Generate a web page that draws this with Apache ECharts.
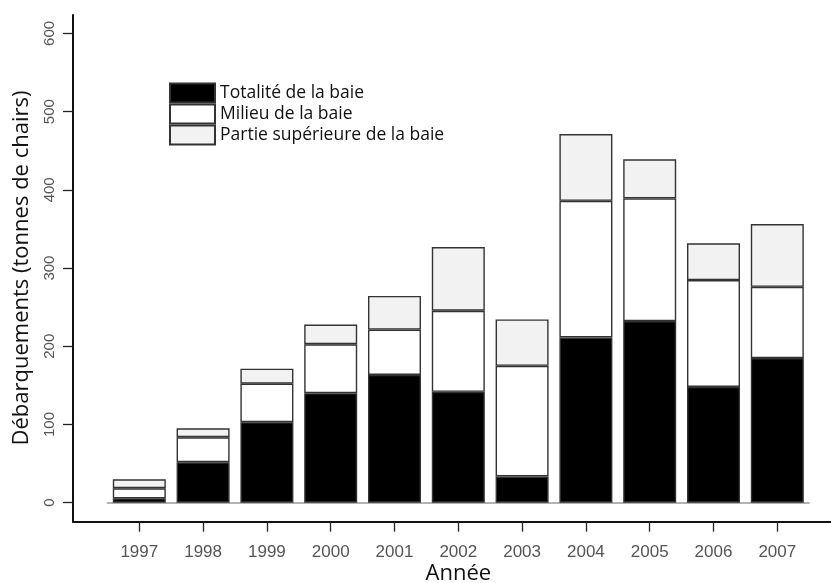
<!DOCTYPE html>
<html><head><meta charset="utf-8">
<script src="https://cdn.jsdelivr.net/npm/echarts@6/dist/echarts.min.js"></script>
<style>html,body{margin:0;padding:0;background:#fff}#c{width:831px;height:583px}</style>
</head><body><div id="c"></div>
<script>
const years = ['1997','1998','1999','2000','2001','2002','2003','2004','2005','2006','2007'];
const totalite = [5.6, 51.7, 102.9, 140, 163.4, 141.8, 33.5, 211.3, 232.2, 148, 184.9];
const milieu = [12.9, 32, 49.3, 62.6, 57.9, 103.6, 141.5, 174.7, 156.8, 136.6, 91.1];
const partie = [11.5, 11.5, 19.2, 25.1, 43.1, 81.4, 59.3, 85.4, 50, 47, 80.3];
const seriesNames = ['Totalité de la baie', 'Milieu de la baie', 'Partie supérieure de la baie'];
const yMin = 0, yMax = 600, yStep = 100;

const chart = echarts.init(document.getElementById('c'), null, {renderer: 'canvas'});
const border = {borderColor: '#333', borderWidth: 1.4};
chart.setOption({
  animation: false,
  backgroundColor: '#fff',
  grid: [
    {left: 107.4, right: 21.8, top: 33.4, bottom: 80.3, containLabel: false, outerBoundsMode: 'none'},
    {left: 73, right: 0, top: 15, bottom: 61.3, containLabel: false, outerBoundsMode: 'none'}
  ],
  legend: {
    orient: 'vertical', left: 169, top: 82.5, padding: 0,
    itemWidth: 45, itemHeight: 19, itemGap: 0, icon: 'rect',
    textStyle: {fontFamily: 'Open Sans', fontSize: 17.5, lineHeight: 19, color: '#111'},
    data: seriesNames
  },
  xAxis: [
    {type: 'category', gridIndex: 0, data: years,
     axisLine: {show: true, lineStyle: {color: '#999', width: 1.5}},
     axisTick: {show: false}, axisLabel: {show: false}},
    {type: 'category', gridIndex: 0, data: years, position: 'bottom', offset: 19,
     axisLine: {show: false},
     axisTick: {show: true, alignWithLabel: true, length: 10, lineStyle: {color: '#222', width: 1.3}},
     axisLabel: {margin: 22, fontFamily: 'Liberation Sans', fontSize: 17, color: '#555'},
     name: 'Année', nameLocation: 'middle', nameGap: 41, nameMoveOverlap: false,
     nameTextStyle: {fontFamily: 'Open Sans', fontSize: 22, color: '#111'}},
    {type: 'value', gridIndex: 1, min: 0, max: 1,
     axisLine: {show: true, onZero: false, lineStyle: {color: '#111', width: 2}},
     axisTick: {show: false}, axisLabel: {show: false}, splitLine: {show: false}}
  ],
  yAxis: [
    {type: 'value', gridIndex: 0, min: yMin, max: yMax, interval: yStep, offset: 34.4,
     axisLine: {show: false},
     axisTick: {show: true, length: 10, lineStyle: {color: '#222', width: 1.3}},
     axisLabel: {rotate: 90, margin: 16, fontFamily: 'Liberation Sans', fontSize: 15, color: '#555'},
     splitLine: {show: false},
     name: 'Débarquements (tonnes de chairs)', nameLocation: 'middle', nameGap: 40,
     nameMoveOverlap: false,
     nameTextStyle: {fontFamily: 'Open Sans', fontSize: 22, color: '#111'}},
    {type: 'value', gridIndex: 1, min: 0, max: 1,
     axisLine: {show: true, onZero: false, lineStyle: {color: '#111', width: 2}},
     axisTick: {show: false}, axisLabel: {show: false}, splitLine: {show: false}}
  ],
  series: [
    {name: seriesNames[0], type: 'bar', stack: 's', xAxisIndex: 0, yAxisIndex: 0, barWidth: 53,
     itemStyle: Object.assign({color: '#000'}, border), data: totalite},
    {name: seriesNames[1], type: 'bar', stack: 's', xAxisIndex: 0, yAxisIndex: 0, barWidth: 53,
     itemStyle: Object.assign({color: '#fff'}, border), data: milieu},
    {name: seriesNames[2], type: 'bar', stack: 's', xAxisIndex: 0, yAxisIndex: 0, barWidth: 53,
     itemStyle: Object.assign({color: '#f2f2f2'}, border), data: partie}
  ]
});
</script></body></html>
